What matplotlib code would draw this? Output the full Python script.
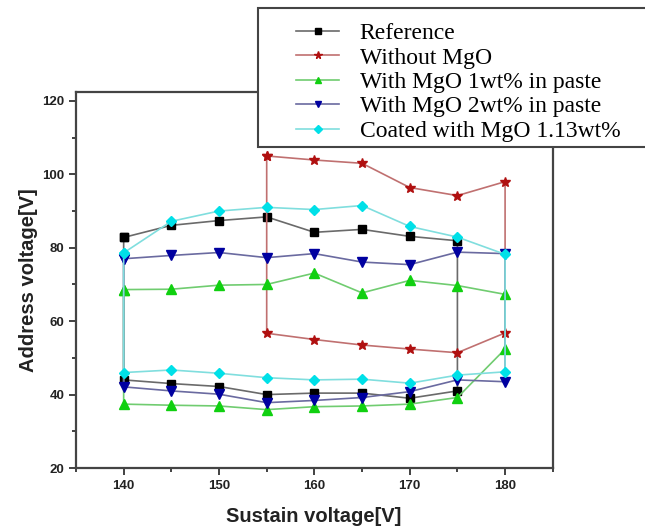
from matplotlib import pyplot as plt
from matplotlib.patches import Rectangle
import numpy as np

# sustain voltage [V]
x_ref = [140, 145, 150, 155, 160, 165, 170, 175]
x_red = [155, 160, 165, 170, 175, 180]
x_all = [140, 145, 150, 155, 160, 165, 170, 175, 180]

# address voltage [V], upper and lower margin of each window
ref_up = [82.8, 86.1, 87.4, 88.4, 84.2, 85.0, 83.1, 81.9]
ref_low = [44.0, 43.0, 42.2, 40.0, 40.4, 40.4, 39.0, 41.0]
nomgo_up = [105.0, 103.9, 103.0, 96.4, 94.2, 98.0]
nomgo_low = [56.7, 55.0, 53.5, 52.4, 51.4, 56.8]
mgo1_up = [68.6, 68.7, 69.8, 70.0, 73.1, 67.7, 71.1, 69.7, 67.3]
mgo1_low = [37.4, 37.1, 36.9, 35.9, 36.7, 36.9, 37.4, 39.2, 52.4]
mgo2_up = [77.0, 77.9, 78.7, 77.3, 78.4, 76.1, 75.4, 78.8, 78.4]
mgo2_low = [42.1, 41.0, 40.1, 37.8, 38.4, 39.2, 40.8, 44.0, 43.5]
coat_up = [78.6, 87.2, 90.0, 91.0, 90.4, 91.5, 85.8, 82.9, 78.2]
coat_low = [46.0, 46.7, 45.8, 44.6, 44.0, 44.2, 43.1, 45.3, 46.2]

labels = ["Reference", "Without MgO", "With MgO 1wt% in paste",
          "With MgO 2wt% in paste", "Coated with MgO 1.13wt%"]

series = [
    (x_ref, ref_up, ref_low, "#6a6a6a", "black", "s", 5.5),
    (x_red, nomgo_up, nomgo_low, "#c07070", "#b01010", "*", 7.5),
    (x_all, mgo1_up, mgo1_low, "#70cc70", "#10d010", "^", 6.5),
    (x_all, mgo2_up, mgo2_low, "#6a6aa0", "#0000a0", "v", 6.5),
    (x_all, coat_up, coat_low, "#80dede", "#00e0e8", "D", 5.5),
]

fig = plt.figure(figsize=(6.45, 5.32), dpi=100)
ax = fig.add_axes([0.1178, 0.1203, 0.7392, 0.7073])

handles = []
for (x, up, low, lc, mc, mk, ms), lab in zip(series, labels):
    # closed window: upper curve, then lower curve back, then close
    xx = list(x) + list(x)[::-1] + [x[0]]
    yy = list(up) + list(low)[::-1] + [up[0]]
    h, = ax.plot(xx, yy, color=lc, lw=1.2, marker=mk, ms=ms,
                 mfc=mc, mec=mc, label=lab)
    handles.append(h)

ax.set_xlim(135, 185)
ax.set_ylim(20, 122.5)
ax.set_xticks([140, 150, 160, 170, 180])
ax.set_xticks([135, 145, 155, 165, 175, 185], minor=True)
ax.set_yticks([20, 40, 60, 80, 100, 120])
ax.set_yticks([30, 50, 70, 90, 110], minor=True)
ax.tick_params(which="major", direction="out", length=5, width=1.3, colors="#333333")
ax.tick_params(which="minor", direction="out", length=3, width=1.3, colors="#333333")
for lab in ax.get_xticklabels() + ax.get_yticklabels():
    lab.set_fontfamily("Liberation Sans")
    lab.set_fontweight("bold")
    lab.set_fontsize(9.5)
    lab.set_color("#222222")
for sp in ax.spines.values():
    sp.set_linewidth(1.6)
    sp.set_color("#444444")

fig.text(314 / 645, 1 - 517 / 532, "Sustain voltage[V]", ha="center", va="center",
         family="Liberation Sans", weight="bold", size=14.5, color="#222222")
fig.text(29 / 645, 1 - 280 / 532, "Address voltage[V]", ha="center", va="center",
         rotation=90, family="Liberation Sans", weight="bold", size=14.5, color="#222222")

# legend box, running off the right edge
box = Rectangle((258 / 645, 1 - 147 / 532), 0.62, (147 - 7.5) / 532,
                transform=fig.transFigure, facecolor="white",
                edgecolor="#444444", lw=1.5, zorder=3)
fig.patches.append(box)

fig.legend(handles, labels, loc="upper left",
           bbox_to_anchor=(284 / 645, 1 - 11 / 532),
           frameon=False, prop={"family": "Liberation Serif", "size": 17},
           labelspacing=0.12, handlelength=1.85, handletextpad=0.85,
           borderpad=0, markerscale=0.75)

plt.savefig("out.png")
